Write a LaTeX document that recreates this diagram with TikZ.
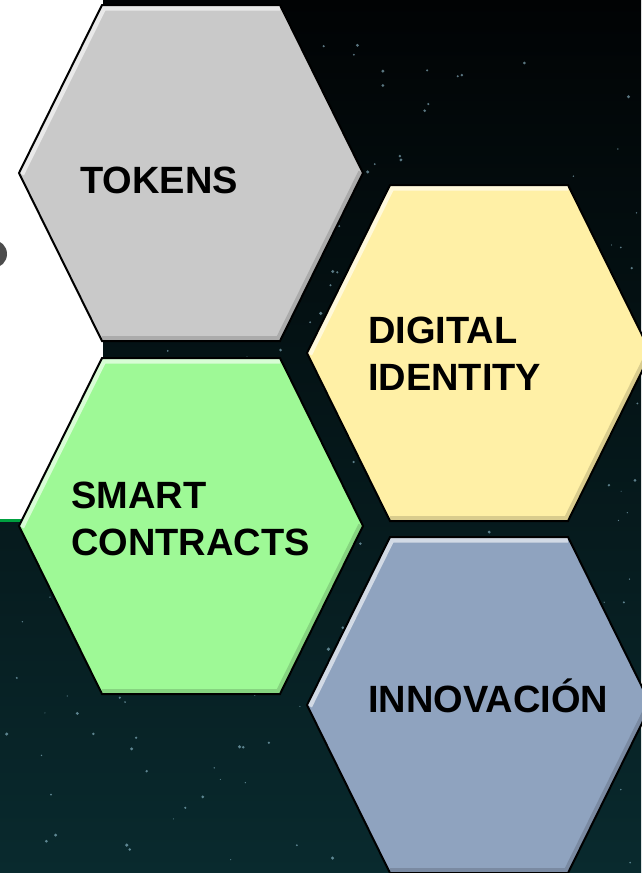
\documentclass[tikz,border=0pt]{standalone}
\usepackage{fontspec}
\setmainfont{Liberation Sans}

\definecolor{tokengray}{HTML}{C9C9C9}
\definecolor{identyellow}{HTML}{FFF0A6}
\definecolor{contractgreen}{HTML}{9EF996}
\definecolor{innovblue}{HTML}{8FA3BF}
\definecolor{spacetop}{HTML}{010304}
\definecolor{spacemid}{HTML}{05161A}
\definecolor{spacebottom}{HTML}{092A2E}
\definecolor{panelgreen}{HTML}{00A040}

\tikzset{
  hexlabel/.style={font=\fontsize{38}{47}\selectfont\bfseries, align=left, inner sep=0pt, anchor=north west},
  hexborder/.style={draw=black, line width=2pt},
  stardot/.style={fill=cyan!30!white, opacity=0.5},
}

\begin{document}
\begin{tikzpicture}[x=1pt,y=-1pt]
    % fondo
    \useasboundingbox (0,0) rectangle (641,873);
    \shade[top color=spacetop, middle color=spacemid, bottom color=spacebottom] (0,0) rectangle (641,873);

    % estrellas
    \pgfmathsetseed{42}
    \foreach \i in {1,...,240}{
        \pgfmathsetmacro{\sx}{641*rnd}
        \pgfmathsetmacro{\sy}{40+833*rnd}
        \pgfmathsetmacro{\sr}{0.5+1.3*rnd}
        \fill[stardot] (\sx,\sy) circle[radius=\sr pt];
    }

    % panel blanco
    \fill[white] (0,0) rectangle (103,520);
    \draw[panelgreen, line width=3pt] (0,520) -- (103,520);
    \fill[black!70] (-7,254) circle[radius=14pt];

    % hexagonos
    \foreach \cx/\cy/\col in {191/173/tokengray, 479/353/identyellow, 191/526/contractgreen, 479/705/innovblue}{
        \begin{scope}
            \clip (\cx-172,\cy) -- (\cx-89,\cy-168) -- (\cx+89,\cy-168) -- (\cx+172,\cy) -- (\cx+89,\cy+168) -- (\cx-89,\cy+168) -- cycle;
            \fill[\col] (\cx-180,\cy-180) rectangle (\cx+180,\cy+180);
            \draw[\col!40!white, line width=11pt] (\cx-172,\cy) -- (\cx-89,\cy-168) -- (\cx+89,\cy-168);
            \draw[\col!85!black, line width=10pt] (\cx+172,\cy) -- (\cx+89,\cy+168) -- (\cx-89,\cy+168);
        \end{scope}
        \draw[hexborder] (\cx-172,\cy) -- (\cx-89,\cy-168) -- (\cx+89,\cy-168) -- (\cx+172,\cy) -- (\cx+89,\cy+168) -- (\cx-89,\cy+168) -- cycle;
    }

    % textos
    \node[hexlabel] (tokens) at (80,167) {TOKENS};
    \node[hexlabel] (identity) at (368,317) {DIGITAL\\IDENTITY};
    \node[hexlabel] (contracts) at (71,482) {SMART\\CONTRACTS};
    \node[hexlabel, anchor=base west] (innovacion) at (368,712) {INNOVACIÓN};
\end{tikzpicture}
\end{document}
